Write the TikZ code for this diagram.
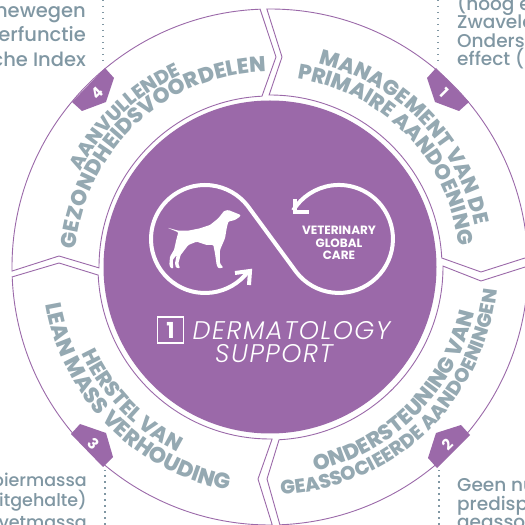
\documentclass[tikz,border=0pt]{standalone}
\usepackage{fontspec}
\usetikzlibrary{decorations.text,calc}
\setmainfont{Poppins}
\newfontfamily\hd{Poppins}
\newfontfamily\hx{Poppins ExtraBold}
\newfontfamily\md{Poppins Medium}
\newfontfamily\ld{Poppins Light}[ItalicFont={Poppins Light Italic}]
\definecolor{pur}{HTML}{9B69A9}
\definecolor{hc}{HTML}{95A9B2}
\definecolor{sc}{HTML}{8097A3}
\tikzset{
  seg/.style={draw=pur,line width=0.9pt,fill=white,line join=miter},
  badge/.style={fill=pur,draw=none},
  num/.style={text=white,font=\hd\bfseries\fontsize{15}{15}\selectfont,inner sep=0pt},
  side/.style={text=sc,font=\md\fontsize{18.5}{18.5}\selectfont,inner sep=0pt},
  sidea/.style={side,font=\md\fontsize{19.5}{19.5}\selectfont},
  sideb/.style={side,font=\md\fontsize{17.5}{17.5}\selectfont},
  dots/.style={draw=sc,line width=1.5pt,dash pattern=on 1.5pt off 4.5pt},
  inf/.style={draw=white,line width=4pt},
  bigital/.style={text=white,font=\ld\itshape\fontsize{25.5}{25.5}\selectfont\addfontfeature{LetterSpace=6},anchor=base,inner sep=0pt},
  head/.style 2 args={decorate,decoration={text along path,text align=center,text={|\hx\fontsize{#1}{#1}\selectfont\color{hc}|#2}}},
}
\begin{document}
\begin{tikzpicture}[x=1pt,y=1pt]
\useasboundingbox (0,0) rectangle (525,525);
\clip (0,0) rectangle (525,525);
\fill[white] (0,0) rectangle (525,525);
\coordinate (C) at (270,258);
% side texts
\node[sidea,anchor=base east] (t41) at (86,507) {inewegen};
\node[sidea,anchor=base east] (t42) at (86,483) {ierfunctie};
\node[sidea,anchor=base east] (t43) at (86,458) {che Index};
\node[side,anchor=base west] (t11) at (457,514) {(noog e};
\node[side,anchor=base west] (t12) at (457,496) {Zwavela};
\node[side,anchor=base west] (t13) at (457,477) {Onders};
\node[side,anchor=base west] (t14) at (457,459) {effect (};
\node[sideb,anchor=base east] (t31) at (87,38) {piermassa};
\node[sideb,anchor=base east] (t32) at (87,19) {itgehalte)};
\node[sideb,anchor=base east] (t33) at (87,-4) {vetmassa};
\node[side,anchor=base west] (t21) at (457,34) {Geen nu};
\node[side,anchor=base west] (t22) at (457,15) {predisp};
\node[side,anchor=base west] (t23) at (457,-3) {geassoc};
% segments
\path[seg] (C)++(90.7:258) arc[start angle=90.7,end angle=2.2,radius=258] -- (481,253) -- ($(C)+(3:172)$) arc[start angle=3,end angle=90.3,radius=172] -- (282,468) -- cycle;
\path[seg] (C)++(0.2:258) arc[start angle=0.2,end angle=-87.8,radius=258] -- (267,46) -- ($(C)+(-87:173)$) arc[start angle=-87,end angle=0.3,radius=173] -- (481,244) -- cycle;
\path[seg] (C)++(270.5:258) arc[start angle=270.5,end angle=182.2,radius=258] -- (59,262) -- ($(C)+(182.7:172)$) arc[start angle=182.7,end angle=270.7,radius=172] -- (258,46) -- cycle;
\path[seg] (C)++(180.9:258) arc[start angle=180.9,end angle=92.2,radius=258] -- (276,468) -- ($(C)+(92.7:171)$) arc[start angle=92.7,end angle=180.3,radius=171] -- (59,269) -- cycle;
% disc
\fill[pur] (C) circle[radius=166.5];
% dotted
\coordinate (d4) at (103,525); \coordinate (d4b) at (103,461);
\coordinate (d1) at (438,525); \coordinate (d1b) at (438,461);
\coordinate (d3) at (105,0); \coordinate (d3b) at (105,55);
\coordinate (d2) at (439,0); \coordinate (d2b) at (439,55);
\draw[dots] (d4)--(d4b); \draw[dots] (d1)--(d1b); \draw[dots] (d3)--(d3b); \draw[dots] (d2)--(d2b);
% badges
\fill[badge] (105,457)--(114,447)--(106,423)--(82,414)--(72,423)--cycle;
\fill[badge] (436,457)--(427,447)--(435,423)--(459,414)--(469,423)--cycle;
\fill[badge] (71,91)--(80,101)--(106,92)--(113,68)--(103,58)--cycle;
\fill[badge] (437,57)--(428,67)--(436,92)--(461,100)--(470,90)--cycle;
\node[num,rotate=45] (n4) at (97,432) {4};
\node[num,rotate=-45] (n1) at (444,432) {1};
\node[num,rotate=-45] (n3) at (94,81) {3};
\node[num,rotate=45] (n2) at (448,80) {2};
% headings
\path[head={21}{MANAGEMENT VAN DE}] (C)++(90:209) arc[start angle=90,end angle=-2,radius=209];
\path[head={21}{PRIMAIRE AANDOENING}] (C)++(90:190) arc[start angle=90,end angle=-2,radius=190];
\path[head={21.5}{ONDERSTEUNING VAN}] (C)++(-90:209) arc[start angle=-90,end angle=0,radius=209];
\path[head={19.5}{GEASSOCIEERDE AANDOENINGEN}] (C)++(-93:228) arc[start angle=-93,end angle=0,radius=228];
\path[head={21}{HERSTEL VAN}] (C)++(180:207) arc[start angle=180,end angle=268,radius=207];
\path[head={22}{LEAN MASS VERHOUDING}] (C)++(180:227) arc[start angle=180,end angle=269,radius=227];
\path[head={19.5}{AANVULLENDE}] (C)++(178:212) arc[start angle=178,end angle=90,radius=212];
\path[head={21.5}{GEZONDHEIDSVOORDELEN}] (C)++(178:195) arc[start angle=178,end angle=88,radius=195];
% infinity
\draw[inf] (205,286)++(-37:54) arc[start angle=-37,end angle=-322,radius=54] -- (296.4,252.8) arc[start angle=218,end angle=508,radius=54];
\draw[inf,line join=miter] (235,252)--(250,254)--(249,240);
\draw[inf,line join=miter] (295,326)--(295,313)--(309,313);
% dog
\begin{scope}[shift={(160,325)},x=0.3333pt,y=-0.3333pt]
\fill[white,rounded corners=1pt] (242,45)--(225,38)--(205,30)--(192,33)--(175,55)--(150,75)--(120,85)--(85,92)--(55,92)--(22,83)--(55,97)--(50,115)--(42,150)--(30,170)--(28,195)--(33,205)--(40,205)--(38,180)--(50,165)--(45,190)--(48,203)--(60,205)--(55,190)--(62,165)--(85,135)--(110,125)--(140,135)--(160,135)--(165,160)--(170,195)--(175,205)--(190,203)--(180,190)--(180,150)--(195,115)--(200,85)--(205,65)--(225,60)--(240,50)--cycle;
\end{scope}
% labels
\node[text=white,font=\hd\bfseries\fontsize{12}{12.5}\selectfont,align=center,inner sep=0pt] (vgc) at (339,282) {VETERINARY\\GLOBAL\\CARE};
\node[draw=white,line width=1.3pt,minimum width=26pt,minimum height=26pt,inner sep=0pt,text=white,font=\hd\bfseries\fontsize{22}{22}\selectfont] (box) at (170.5,195) {1};
\node[bigital] (dm) at (291.5,185) {DERMATOLOGY};
\node[bigital] (sp) at (274,162) {SUPPORT};
\end{tikzpicture}
\end{document}
